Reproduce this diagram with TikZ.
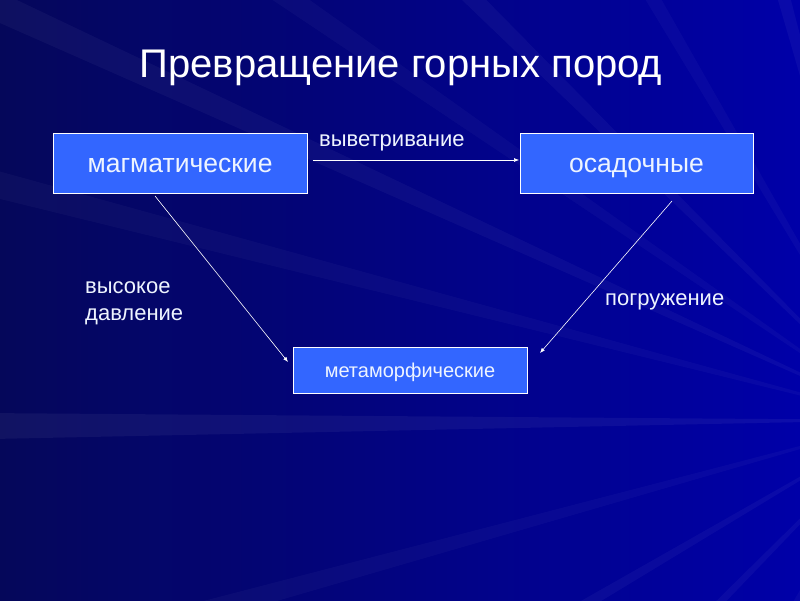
\documentclass[tikz,border=0pt]{standalone}
\usepackage{fontspec}
\setmainfont{Liberation Sans}
\begin{document}
\begin{tikzpicture}[x=1pt,y=-1pt,
  box/.style={draw=white, line width=1pt, fill=boxblue, text=txt, inner sep=0pt, minimum width=#1},
  lbl/.style={text=txt, font=\fontsize{22}{26}\selectfont, inner sep=0pt},
  conn/.style={draw=white, line width=0.6pt, -{Latex[length=5pt,width=4pt]}}]
\usetikzlibrary{arrows.meta}
\definecolor{boxblue}{HTML}{3366FF}
\definecolor{txt}{HTML}{EEF4FF}
\definecolor{bgdark}{HTML}{05075A}
\definecolor{bgright}{HTML}{0000A8}
\useasboundingbox (0,0) rectangle (800,600);
\shade[left color=bgdark, right color=bgright] (0,0) rectangle (800,600);
\begin{scope}
\clip (0,0) rectangle (800,600);
\foreach \a/\o in {150/0.04,165/0.03,180/0.05,195/0.03,205/0.04,215/0.03,225/0.04,240/0.03,255/0.04,270/0.03,120/0.03,135/0.04,105/0.03}{
  \fill[white, opacity=\o] (900,420) -- ++(\a-1.2:1400) -- ++(\a+92:40) -- cycle;
}
\end{scope}
% title
\node (title) [text=white, font=\fontsize{40}{46}\selectfont, inner sep=0pt] at (401,68) {Превращение горных пород};
% boxes
\node (mag) [box=254pt, minimum height=60pt, text height=20pt, text depth=2pt, font=\fontsize{26.5}{30}\selectfont] at (180,163) {магматические};
\node (osa) [box=233pt, minimum height=60pt, text height=20pt, text depth=2pt, font=\fontsize{26.5}{30}\selectfont] at (636.5,163) {осадочные};
\node (met) [box=234pt, minimum height=46pt, text height=16pt, text depth=2pt, font=\fontsize{20}{24}\selectfont] at (410,370) {метаморфические};
% connectors
\coordinate (a1) at (313,160);
\coordinate (a2) at (519,160);
\draw[conn] (a1) -- (a2);
\coordinate (b1) at (155,196);
\coordinate (b2) at (288,362);
\draw[conn] (b1) -- (b2);
\coordinate (c1) at (672,201);
\coordinate (c2) at (540,353);
\draw[conn] (c1) -- (c2);
% labels
\node (l1) [lbl, anchor=west] at (319,143) {выветривание};
\node (l2) [lbl, anchor=north west, align=left, font=\fontsize{22}{27}\selectfont] at (85,281) {высокое\\давление};
\node (l3) [lbl, anchor=west] at (605,302) {погружение};
\end{tikzpicture}
\end{document}
